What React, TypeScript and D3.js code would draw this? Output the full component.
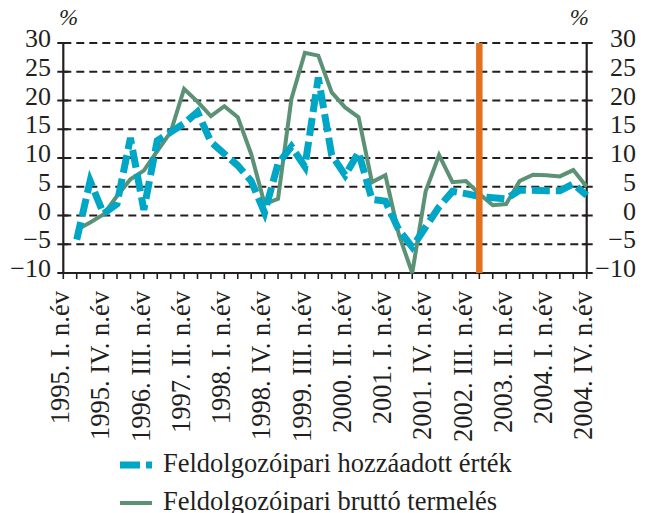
import * as d3 from 'd3';

// quarters 1995 Q1 .. 2004 Q4
const years = [1995, 1996, 1997, 1998, 1999, 2000, 2001, 2002, 2003, 2004];
const quarterNames = ['I.', 'II.', 'III.', 'IV.'];
const categories: string[] = years.flatMap((y) => quarterNames.map((q) => `${y}. ${q} n.év`));

// every third quarter gets a label
const tickLabels = [
  '1995. I. n.év', '1995. IV. n.év', '1996. III. n.év', '1997. II. n.év',
  '1998. I. n.év', '1998. IV. n.év', '1999. III. n.év', '2000. II. n.év',
  '2001. I. n.év', '2001. IV. n.év', '2002. III. n.év', '2003. II. n.év',
  '2004. I. n.év', '2004. IV. n.év',
];

const yTicks = [30, 25, 20, 15, 10, 5, 0, -5, -10];

// Feldolgozóipari hozzáadott érték (%)
const hozzaadott: (number | null)[] = [
  null, -4.2, 6, 0.3, 2, 13.5, 1, 13, 14.5, 16,
  18, 12.8, 10.7, 8.7, 6, 0.5, 9, 12, 8.5, 24,
  10.5, 7, 11, 2.8, 2.5, -2.5, -5.5, -2, 1.5, 4.2,
  3.8, 3.3, 3.1, 2.9, 4.4, 4.4, 4.3, 4.3, 5.5, 3.5,
];

// Feldolgozóipari bruttó termelés (%)
const brutto: (number | null)[] = [
  null, -2.5, -1.2, 0.2, 3.4, 6.3, 7.8, 11.2, 14.5, 22,
  19.8, 17.3, 19.0, 17.1, 10.7, 2.0, 2.9, 20.3, 28.3, 27.8,
  21.4, 18.8, 17.1, 5.8, 7.0, -3.3, -10.0, 4.2, 10.5, 5.8,
  6.0, 3.8, 1.8, 2.0, 6.0, 7.1, 7.0, 6.8, 7.9, 5.0,
];

const markerCategory = '2002. IV. n.év';

const CYAN = '#00a6c6';
const GREEN = '#5b9276';
const ORANGE = '#e2711d';
const INK = '#231f20';
const FONT = '"Liberation Serif", "Times New Roman", serif';

export default function App() {
  const width = 650;
  const height = 513;

  const x = d3.scaleLinear().domain([0, categories.length - 1]).range([63.3, 586.7]);
  const y = d3.scaleLinear().domain([-10, 30]).range([273, 43]);

  const line = d3
    .line<number | null>()
    .defined((d) => d != null)
    .x((_, i) => x(i))
    .y((d) => y(d as number));

  const left = x(0);
  const right = x(categories.length - 1);
  const markerX = x(categories.indexOf(markerCategory));
  const fmt = (t: number) => (t < 0 ? `\u2212${-t}` : `${t}`);

  return (
    <div style={{ position: 'absolute', left: 0, top: 0 }}>
      <svg width={width} height={height} style={{ display: 'block', background: '#fff' }}>
        {/* % units */}
        <text x={59} y={25} fontSize={23} fontStyle="italic" fontFamily={FONT} fill={INK}>%</text>
        <text x={589} y={25} fontSize={23} fontStyle="italic" fontFamily={FONT} fill={INK} textAnchor="end">%</text>

        {/* gridlines + y labels */}
        {yTicks.map((t) => (
          <g key={`y-${t}`}>
            {t > -10 && (
              <line x1={left} x2={right} y1={y(t)} y2={y(t)} stroke={INK} strokeWidth={2} strokeDasharray="8,5" />
            )}
            <line x1={left - 6} x2={left + 5} y1={y(t)} y2={y(t)} stroke={INK} strokeWidth={2} />
            <line x1={right - 5} x2={right + 6} y1={y(t)} y2={y(t)} stroke={INK} strokeWidth={2} />
            <text x={51} y={y(t)} dy={4} textAnchor="end" fontSize={26} fontFamily={FONT} fill={INK}>
              {fmt(t)}
            </text>
            <text x={636} y={y(t)} dy={4} textAnchor="end" fontSize={26} fontFamily={FONT} fill={INK}>
              {fmt(t)}
            </text>
          </g>
        ))}

        {/* axes */}
        <line x1={left} x2={left} y1={y(30)} y2={y(-10)} stroke={INK} strokeWidth={2.2} />
        <line x1={right} x2={right} y1={y(30)} y2={y(-10)} stroke={INK} strokeWidth={2.2} />
        <line x1={left} x2={right} y1={y(-10)} y2={y(-10)} stroke={INK} strokeWidth={2.2} />
        {categories.map((c, i) => (
          <line key={`xt-${c}`} x1={x(i)} x2={x(i)} y1={y(-10)} y2={y(-10) + 6} stroke={INK} strokeWidth={1.6} />
        ))}

        {/* x labels */}
        {tickLabels.map((lbl) => {
          const i = categories.indexOf(lbl);
          return (
            <text
              key={`xl-${lbl}`}
              transform={`translate(${x(i) - 3.5}, 291) rotate(-90)`}
              dy="0.35em"
              textAnchor="end"
              fontSize={26.5}
              fontFamily={FONT}
              fill={INK}
            >
              {lbl}
            </text>
          );
        })}

        {/* series */}
        <path d={line(brutto) ?? undefined} fill="none" stroke={GREEN} strokeWidth={4} strokeLinejoin="miter" />
        <path
          d={line(hozzaadott) ?? undefined}
          fill="none"
          stroke={CYAN}
          strokeWidth={7}
          strokeDasharray="18,6"
          strokeLinejoin="miter"
        />

        {/* marker */}
        <line x1={markerX} x2={markerX} y1={y(30)} y2={y(-10)} stroke={ORANGE} strokeWidth={6.5} />

        {/* legend */}
        <line x1={120} x2={152} y1={465} y2={465} stroke={CYAN} strokeWidth={7} strokeDasharray="20,6" />
        <text x={163} y={472} fontSize={26.5} fontFamily={FONT} fill={INK}>Feldolgozóipari hozzáadott érték</text>
        <line x1={120} x2={152} y1={503} y2={503} stroke={GREEN} strokeWidth={4} />
        <text x={163} y={510} fontSize={26.5} fontFamily={FONT} fill={INK}>Feldolgozóipari bruttó termelés</text>
      </svg>
    </div>
  );
}
